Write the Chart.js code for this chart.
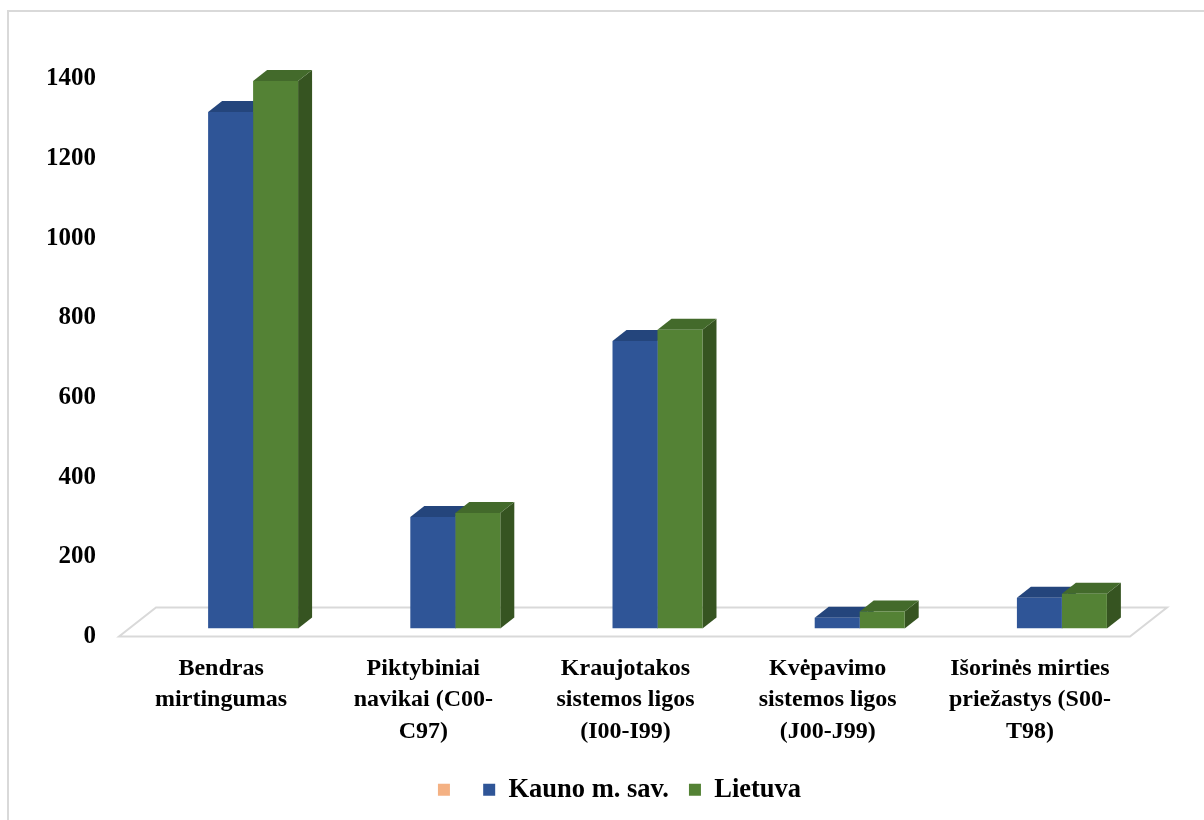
<!DOCTYPE html>
<html>
<head>
<meta charset="utf-8">
<title>Mirtingumas</title>
<script src="https://cdn.jsdelivr.net/npm/chart.js@4/dist/chart.umd.min.js"></script>
<style>
  html, body { margin: 0; padding: 0; background: #fff; overflow: hidden; }
  #wrap { position: relative; width: 1204px; height: 820px; }
  #frame { position: absolute; left: 7px; top: 10px; width: 1220px; height: 840px;
           border: 2px solid #d9d9d9; box-sizing: border-box; pointer-events: none; }
  canvas { position: absolute; left: 0; top: 0; }
</style>
</head>
<body>
<div id="wrap">
  <canvas id="chart" width="1204" height="820"></canvas>
  <div id="frame"></div>
</div>
<script>
// Categories (multi-line axis labels)
const categories = [
  ['Bendras', 'mirtingumas'],
  ['Piktybiniai', 'navikai (C00-', 'C97)'],
  ['Kraujotakos', 'sistemos ligos', '(I00-I99)'],
  ['Kvėpavimo', 'sistemos ligos', '(J00-J99)'],
  ['Išorinės mirties', 'priežastys (S00-', 'T98)']
];
// Series
const emptySeries = [null, null, null, null, null];
const kaunoValues = [1297, 280, 722, 27, 77];
const lietuvaValues = [1375, 290, 750, 43, 87];
// Value axis
const yTicks = [0, 200, 400, 600, 800, 1000, 1200, 1400];

const FONT = '"Liberation Serif", "Times New Roman", serif';
const DEPTH_X = 14, DEPTH_Y = -11;

const faceColors = [
  null,
  { top: '#24457c', side: '#1f3864' },
  { top: '#436a2b', side: '#365421' }
];

// Floor plane and the top / side faces of each column (fronts are drawn by Chart.js)
const depthPlugin = {
  id: 'depth',
  afterLayout(chart) {
    // centre the legend under the floor rather than the whole canvas
    const lg = chart.legend;
    if (lg) { lg.left += 38; lg.right += 38; }
  },
  beforeDatasetsDraw(chart) {
    const ctx = chart.ctx;
    const x = chart.scales.x, y = chart.scales.y;
    const y0 = y.getPixelForValue(0);
    const backY = y0 - 21, frontY = y0 + 8;
    const bl = x.left + 4, br = x.right + 4;
    ctx.save();
    ctx.strokeStyle = '#d9d9d9';
    ctx.lineWidth = 2;
    ctx.beginPath();
    ctx.moveTo(bl, backY);
    ctx.lineTo(br, backY);
    ctx.lineTo(br - 37, frontY);
    ctx.lineTo(bl - 37, frontY);
    ctx.closePath();
    ctx.stroke();

    for (let di = 1; di < chart.data.datasets.length; di++) {
      const meta = chart.getDatasetMeta(di);
      meta.data.forEach((bar) => {
        const p = bar.getProps(['x', 'y', 'base', 'width'], true);
        if (p.y == null || isNaN(p.y)) return;
        const l = p.x - p.width / 2, r = p.x + p.width / 2;
        const t = p.y, b = p.base;
        // side face
        ctx.fillStyle = faceColors[di].side;
        ctx.beginPath();
        ctx.moveTo(r, t);
        ctx.lineTo(r + DEPTH_X, t + DEPTH_Y);
        ctx.lineTo(r + DEPTH_X, b + DEPTH_Y);
        ctx.lineTo(r, b);
        ctx.closePath();
        ctx.fill();
        // top face
        ctx.fillStyle = faceColors[di].top;
        ctx.beginPath();
        ctx.moveTo(l, t);
        ctx.lineTo(l + DEPTH_X, t + DEPTH_Y);
        ctx.lineTo(r + DEPTH_X, t + DEPTH_Y);
        ctx.lineTo(r, t);
        ctx.closePath();
        ctx.fill();
      });
    }
    ctx.restore();
  }
};

new Chart(document.getElementById('chart'), {
  type: 'bar',
  data: {
    labels: categories,
    datasets: [
      { label: '', data: emptySeries, backgroundColor: '#f4b183' },
      { label: 'Kauno m. sav.', data: kaunoValues, backgroundColor: '#2f5597' },
      { label: 'Lietuva', data: lietuvaValues, backgroundColor: '#548235' }
    ]
  },
  options: {
    responsive: false,
    animation: false,
    skipNull: true,
    categoryPercentage: 0.445,
    barPercentage: 1.0,
    layout: { padding: { left: 0, right: 41, top: 69, bottom: 7 } },
    plugins: {
      tooltip: { enabled: false },
      legend: {
        position: 'bottom',
        labels: {
          color: '#000',
          font: { family: FONT, size: 26.5, weight: 'bold' },
          boxWidth: 12,
          boxHeight: 12,
          padding: 20
        }
      }
    },
    scales: {
      x: {
        grid: { display: false, drawTicks: false },
        border: { display: false },
        ticks: {
          color: '#000',
          font: { family: FONT, size: 24, weight: 'bold', lineHeight: 1.32 },
          maxRotation: 0,
          autoSkip: false,
          padding: 24,
          labelOffset: -32
        },
        afterFit(scale) { scale.height = 128; }
      },
      y: {
        min: 0,
        max: 1400,
        afterBuildTicks(scale) { scale.ticks = yTicks.map(v => ({ value: v })); },
        grid: { display: false, drawTicks: false },
        border: { display: false },
        ticks: {
          color: '#000',
          font: { family: FONT, size: 25, weight: 'bold' },
          padding: 56,
          labelOffset: 8,
          callback: (v) => String(v)
        },
        afterFit(scale) { scale.width = 152; }
      }
    }
  },
  plugins: [depthPlugin]
});
</script>
</body>
</html>
